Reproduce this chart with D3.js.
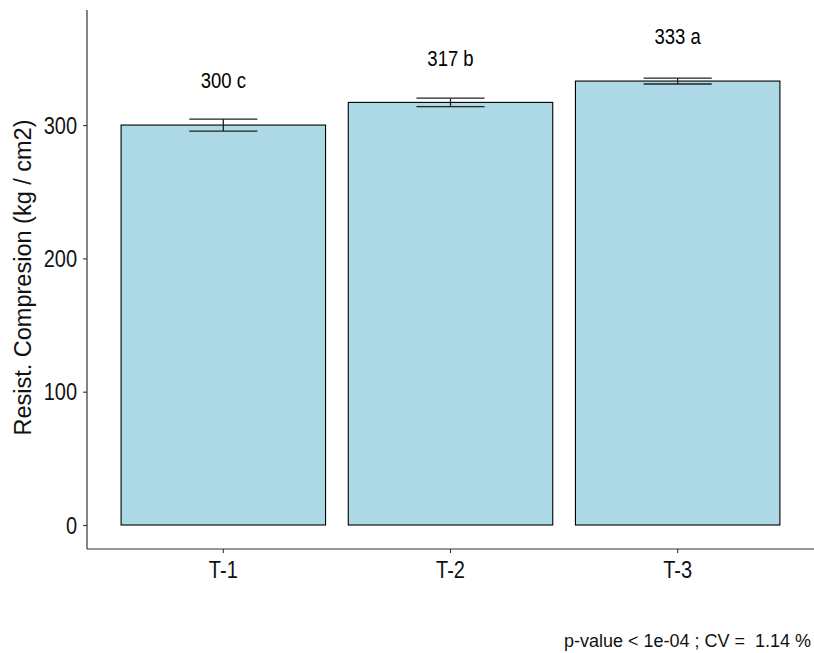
<!DOCTYPE html>
<html>
<head>
<meta charset="utf-8">
<script src="https://cdn.jsdelivr.net/npm/d3@7"></script>
<style>
  html, body { margin: 0; padding: 0; background: #fff; }
  svg text { font-family: "Liberation Sans", Arial, sans-serif; }
</style>
</head>
<body>
<svg id="chart" width="814" height="653"></svg>
<script>
// Treatments, mean compressive strength, standard error and Tukey groups
const categories = ["T-1", "T-2", "T-3"];
const means = [300, 317, 333];
const errors = [4.5, 3.2, 2.2];
const groups = ["c", "b", "a"];
const yTicks = [0, 100, 200, 300];
const caption = "p-value < 1e-04 ; CV =  1.14 %";

const svg = d3.select("#chart");
const plotLeft = 87, plotRight = 814, plotTop = 10, plotBottom = 549;
const stretch = 1.15; // text is drawn slightly tall and narrow

// Discrete x scale: one band per category, 0.6 band of expansion at each end
const x = d3.scaleBand()
  .domain(categories)
  .range([plotLeft, plotRight])
  .paddingInner(0)
  .paddingOuter(0.1);
const step = x.step();
const cx = d => x(d) + step / 2;
const barW = 0.9 * step;

const y = d3.scaleLinear().domain([-18.0, 386.3]).range([plotBottom, plotTop]);

// Bars
svg.selectAll("rect.bar").data(categories).enter().append("rect")
  .attr("class", "bar")
  .attr("x", d => cx(d) - barW / 2)
  .attr("width", barW)
  .attr("y", (d, i) => y(means[i]))
  .attr("height", (d, i) => y(0) - y(means[i]))
  .attr("fill", "#ADD8E6")
  .attr("stroke", "#000")
  .attr("stroke-width", 1.1);

// Error bars
const ebW = 0.3 * step;
const eb = svg.selectAll("g.eb").data(categories).enter().append("g")
  .attr("class", "eb")
  .attr("stroke", "#222").attr("stroke-width", 1.3);
eb.append("line")
  .attr("x1", d => cx(d)).attr("x2", d => cx(d))
  .attr("y1", (d, i) => y(means[i] + errors[i]))
  .attr("y2", (d, i) => y(means[i] - errors[i]));
eb.append("line")
  .attr("x1", d => cx(d) - ebW / 2).attr("x2", d => cx(d) + ebW / 2)
  .attr("y1", (d, i) => y(means[i] + errors[i]))
  .attr("y2", (d, i) => y(means[i] + errors[i]));
eb.append("line")
  .attr("x1", d => cx(d) - ebW / 2).attr("x2", d => cx(d) + ebW / 2)
  .attr("y1", (d, i) => y(means[i] - errors[i]))
  .attr("y2", (d, i) => y(means[i] - errors[i]));

// Value + group labels
const labOff = d3.max(means) * 0.1;
svg.selectAll("text.lab").data(categories).enter().append("text")
  .attr("class", "lab")
  .attr("transform", (d, i) => `translate(${cx(d)},${y(means[i] + labOff)}) scale(1,${stretch})`)
  .attr("dy", "0.36em")
  .attr("text-anchor", "middle")
  .attr("font-size", 18.5)
  .attr("fill", "#000")
  .text((d, i) => `${means[i]} ${groups[i]}`);

// Y axis
const yAxis = svg.append("g").attr("transform", `translate(${plotLeft},0)`)
  .call(d3.axisLeft(y).tickValues(yTicks).tickSize(4).tickPadding(6).tickFormat(d3.format("d")));
yAxis.select(".domain").attr("d", `M0,${plotTop}V${plotBottom}`).attr("stroke", "#333").attr("stroke-width", 1.2);
yAxis.selectAll(".tick line").attr("stroke", "#333").attr("stroke-width", 1.1);
yAxis.selectAll(".tick text").attr("font-size", 20).attr("fill", "#111")
  .attr("y", 0).attr("dy", "0.36em")
  .attr("transform", `scale(1,${stretch})`)
  .style("font-family", "'Liberation Sans', Arial, sans-serif");

// X axis
const xAxis = svg.append("g").attr("transform", `translate(0,${plotBottom})`)
  .call(d3.axisBottom(x).tickSize(4).tickPadding(7));
xAxis.select(".domain").attr("d", `M${plotLeft},0H${plotRight}`).attr("stroke", "#333").attr("stroke-width", 1.2);
xAxis.selectAll(".tick line").attr("stroke", "#333").attr("stroke-width", 1.1);
xAxis.selectAll(".tick text").attr("font-size", 20).attr("fill", "#111")
  .attr("transform", `scale(1,${stretch})`)
  .style("font-family", "'Liberation Sans', Arial, sans-serif");

// Y axis title
svg.append("text")
  .attr("transform", `translate(31,${(plotTop + plotBottom) / 2 - 2}) rotate(-90)`)
  .attr("text-anchor", "middle")
  .attr("font-size", 23.5)
  .attr("fill", "#111")
  .text("Resist. Compresion (kg / cm2)");

// Caption
svg.append("text")
  .attr("transform", `translate(811,647) scale(1,1.05)`)
  .attr("text-anchor", "end")
  .attr("font-size", 18)
  .attr("fill", "#111")
  .style("white-space", "pre")
  .text(caption);
</script>
</body>
</html>
